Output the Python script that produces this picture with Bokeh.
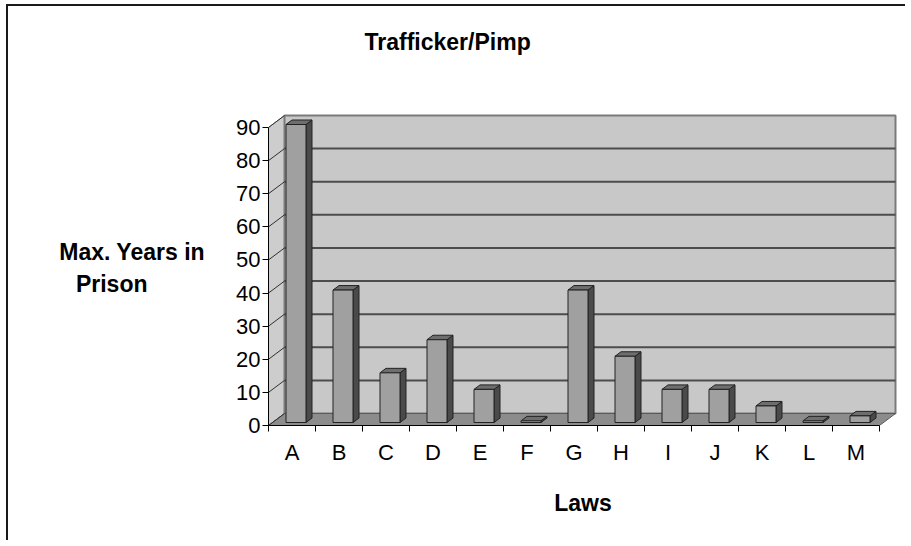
import numpy as np
from bokeh.plotting import figure
from bokeh.models import Range1d, FixedTicker, CustomJSTickFormatter
from bokeh.embed import file_html
from bokeh.resources import INLINE

# ---------------- data ----------------
categories = ["A", "B", "C", "D", "E", "F", "G", "H", "I", "J", "K", "L", "M"]
values = [90, 40, 15, 25, 10, 0.5, 40, 20, 10, 10, 5, 0.5, 2]
y_ticks = [0, 10, 20, 30, 40, 50, 60, 70, 80, 90]
title_text = "Trafficker/Pimp"
y_label_lines = ["Max. Years in", "Prison"]
x_label_text = "Laws"

# ---------------- geometry (pixel -> data helpers) ----------------
PX_X = 47.0            # pixels per category
PX_Y = 298.0 / 90.0    # pixels per year
n = len(categories)
y_max = y_ticks[-1]
FONT = "Liberation Sans"

wx = 16 / PX_X          # wall depth offset
wy = 12 / PX_Y
bar_w = 20 / PX_X
bar_l = (PX_X - 20) / 2 / PX_X + 4 / PX_X
bar_b = 3 / PX_Y
bdx = 6 / PX_X
bdy = 4.5 / PX_Y

W, H = 905, 540
p = figure(width=W, height=H, output_backend="svg", toolbar_location=None,
           x_range=Range1d(0, 629 / PX_X), y_range=Range1d(0, 315 / PX_Y),
           min_border_left=268, min_border_right=W - 897, min_border_top=110,
           min_border_bottom=H - 425)
p.grid.visible = False
p.outline_line_color = None
p.background_fill_color = "white"
p.border_fill_color = None
p.styles = {
    "background": "linear-gradient(#1a1a1a,#1a1a1a) 6px 4px / 2px 100% no-repeat, "
                  "linear-gradient(#1a1a1a,#1a1a1a) 6px 4px / 100% 2px no-repeat, white",
}

# side wall
p.patch([0, 0, wx, wx], [0, y_max, y_max + wy, wy], fill_color="#cdcdcd",
        line_color="#808080", line_width=1)
# back wall
p.quad(left=[wx], right=[n + wx], bottom=[wy], top=[y_max + wy],
       fill_color="#c8c8c8", line_color="#7a7a7a", line_width=2)
# floor
p.patch([0, n, n + wx, wx], [0, 0, wy, wy], fill_color="#8c8c8c",
        line_color="#5a5a5a", line_width=1)

# gridlines on back wall and side wall
gv = np.array(y_ticks[1:-1], dtype=float)
p.segment(x0=[wx] * len(gv), y0=gv + wy, x1=[n + wx] * len(gv), y1=gv + wy,
          line_color="#4d4d4d", line_width=2)
av = np.array(y_ticks, dtype=float)
p.segment(x0=[0] * len(av), y0=av, x1=[wx] * len(av), y1=av + wy,
          line_color="#303030", line_width=1)

# bars
xi = np.arange(n, dtype=float)
vals = np.array(values, dtype=float)
L = xi + bar_l
R = L + bar_w
B = np.full(n, bar_b)
T = vals + bar_b

side_xs = [[r, r, r + bdx, r + bdx] for r in R]
side_ys = [[b, t, t + bdy, b + bdy] for b, t in zip(B, T)]
top_xs = [[l, r, r + bdx, l + bdx] for l, r in zip(L, R)]
top_ys = [[t, t, t + bdy, t + bdy] for t in T]

p.patches(side_xs, side_ys, fill_color="#4a4a4a", line_color="#222222", line_width=1)
p.patches(top_xs, top_ys, fill_color="#6e6e6e", line_color="#222222", line_width=1)
p.quad(left=L, right=R, bottom=B, top=T, fill_color="#a0a0a0",
       line_color="#222222", line_width=1)

# axes
ya = p.yaxis[0]
ya.ticker = FixedTicker(ticks=y_ticks)
ya.bounds = (0, y_max)
ya.major_tick_out = 6
ya.major_tick_in = 0
ya.minor_tick_out = 0
ya.minor_tick_in = 0
ya.axis_line_color = "black"
ya.major_tick_line_color = "black"
ya.major_label_text_font = FONT
ya.major_label_text_font_size = "22px"
ya.major_label_text_color = "black"
ya.major_label_standoff = 2
# second line shifted left (right-aligned block) with non-breaking spaces
ya.axis_label = y_label_lines[0] + "\n" + y_label_lines[1] + "\u00a0" * 9
ya.axis_label_orientation = "horizontal"
ya.axis_label_text_font = FONT
ya.axis_label_text_font_size = "23px"
ya.axis_label_text_font_style = "bold"
ya.axis_label_text_color = "black"
ya.axis_label_text_line_height = 1.25
ya.axis_label_standoff = 28

xa = p.xaxis[0]
xa.ticker = FixedTicker(ticks=list(xi + 0.5), minor_ticks=list(range(n + 1)))
xa.bounds = (0, n)
xa.formatter = CustomJSTickFormatter(args=dict(cats=categories),
                                     code="return cats[Math.floor(tick)] || '';")
xa.major_tick_out = 0
xa.major_tick_in = 0
xa.minor_tick_out = 6
xa.minor_tick_in = 0
xa.axis_line_color = "black"
xa.minor_tick_line_color = "black"
xa.major_label_text_font = FONT
xa.major_label_text_font_size = "22px"
xa.major_label_text_color = "black"
xa.major_label_standoff = 8
xa.axis_label = x_label_text
xa.axis_label_text_font = FONT
xa.axis_label_text_font_size = "23px"
xa.axis_label_text_font_style = "bold"
xa.axis_label_text_color = "black"
xa.axis_label_standoff = 22

# title (a blank second line lifts it to the top of the page)
p.title.text = title_text + "\n\u00a0"
p.title.align = "left"
p.title.offset = 96
p.title.standoff = 48
p.title.text_line_height = 1.2
p.title.text_font = FONT
p.title.text_font_size = "23px"
p.title.text_font_style = "bold"
p.title.text_color = "black"

open("out.html", "w").write(file_html(p, INLINE))
